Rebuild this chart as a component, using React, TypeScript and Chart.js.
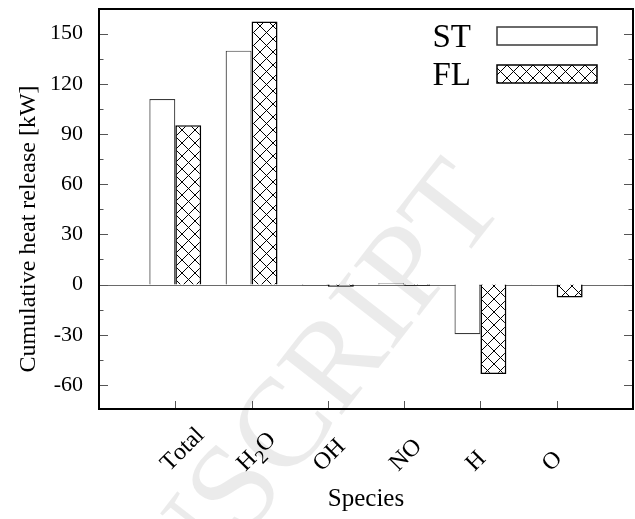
import React, { useEffect, useRef } from 'react';
import { Chart, registerables } from 'chart.js';

Chart.register(...registerables);

// ---- data ----
const categories = ['Total', 'H2O', 'OH', 'NO', 'H', 'O'];
const seriesLabels = ['ST', 'FL'];
const stValues = [110.9, 139.8, -0.6, 0.8, -29.7, -0.2];
const flValues = [95.2, 157.3, -1.3, -0.7, -53.5, -7.8];
const yTickValues = [-60, -30, 0, 30, 60, 90, 120, 150];
const yMinorStep = 15;
const yMin = -74.4;
const yMax = 164.7;
const xTitle = 'Species';
const yTitle = 'Cumulative heat release [kW]';
const watermark = 'ACCEPTED MANUSCRIPT';

const SERIF = '"Liberation Serif", "Times New Roman", Times, serif';
const W = 635;
const H = 519;

function makeHatch(): CanvasPattern | string {
  const p = 13;
  const c = document.createElement('canvas');
  c.width = p;
  c.height = p;
  const g = c.getContext('2d');
  if (!g) return '#fff';
  g.fillStyle = '#fff';
  g.fillRect(0, 0, p, p);
  g.strokeStyle = '#000';
  g.lineWidth = 1;
  g.beginPath();
  g.moveTo(0, 0);
  g.lineTo(p, p);
  g.moveTo(0, p);
  g.lineTo(p, 0);
  g.stroke();
  const pat = g.createPattern(c, 'repeat');
  return pat || '#fff';
}

function drawRichLabel(ctx: CanvasRenderingContext2D, text: string, size: number) {
  // digits rendered as subscripts (chemical formulas)
  let x = 0;
  for (const ch of text) {
    const isDigit = ch >= '0' && ch <= '9';
    const fs = isDigit ? size * 0.8 : size;
    ctx.font = `${fs}px ${SERIF}`;
    ctx.fillText(ch, x, isDigit ? size * 0.28 : 0);
    x += ctx.measureText(ch).width;
  }
}

const decorPlugin = {
  id: 'decor',
  beforeDatasetsDraw(chart: any) {
    const ctx: CanvasRenderingContext2D = chart.ctx;
    const { left, right } = chart.chartArea;
    const ys = chart.scales.y;
    // watermark
    ctx.save();
    ctx.fillStyle = 'rgba(0,0,0,0.08)';
    ctx.font = `126px ${SERIF}`;
    ctx.translate(244, 540);
    ctx.rotate((-52 * Math.PI) / 180);
    const cut = watermark.indexOf('SCRIPT');
    ctx.textBaseline = 'alphabetic';
    ctx.textAlign = 'right';
    ctx.fillText(watermark.slice(0, cut), 0, 0);
    ctx.textAlign = 'left';
    ctx.fillText(watermark.slice(cut), 0, 0);
    ctx.restore();
    // zero line
    const y0 = Math.round(ys.getPixelForValue(0)) + 0.5;
    ctx.save();
    ctx.strokeStyle = '#6a6a6a';
    ctx.lineWidth = 1;
    ctx.beginPath();
    ctx.moveTo(left, y0);
    ctx.lineTo(right, y0);
    ctx.stroke();
    ctx.restore();
  },
  afterDatasetsDraw(chart: any) {
    const ctx: CanvasRenderingContext2D = chart.ctx;
    const { left, right, top, bottom } = chart.chartArea;
    const ys = chart.scales.y;
    const xs = chart.scales.x;
    ctx.save();
    // y ticks (major + minor), both sides
    ctx.strokeStyle = '#555';
    ctx.lineWidth = 1;
    ctx.beginPath();
    for (const v of yTickValues) {
      const py = Math.round(ys.getPixelForValue(v)) + 0.5;
      ctx.moveTo(left, py);
      ctx.lineTo(left + 9, py);
      ctx.moveTo(right, py);
      ctx.lineTo(right - 9, py);
    }
    for (let v = Math.ceil(yMin / yMinorStep) * yMinorStep; v <= yMax; v += yMinorStep) {
      if (yTickValues.includes(v)) continue;
      const py = Math.round(ys.getPixelForValue(v)) + 0.5;
      ctx.moveTo(left, py);
      ctx.lineTo(left + 4.5, py);
      ctx.moveTo(right, py);
      ctx.lineTo(right - 4.5, py);
    }
    // x ticks
    categories.forEach((_, i) => {
      const px = Math.round(xs.getPixelForValue(i + 1)) + 0.5;
      ctx.moveTo(px, bottom);
      ctx.lineTo(px, bottom - 8);
    });
    ctx.stroke();
    // frame
    ctx.strokeStyle = '#000';
    ctx.lineWidth = 2;
    ctx.strokeRect(left, top, right - left, bottom - top);

    // x tick labels (rotated 45deg, starting below the tick)
    ctx.fillStyle = '#000';
    ctx.textAlign = 'left';
    ctx.textBaseline = 'alphabetic';
    categories.forEach((cat, i) => {
      const px = xs.getPixelForValue(i + 1);
      ctx.save();
      ctx.translate(px - 6, bottom + 63);
      ctx.rotate(-Math.PI / 4);
      drawRichLabel(ctx, cat, 24);
      ctx.restore();
    });

    // axis titles
    ctx.font = `25px ${SERIF}`;
    ctx.textAlign = 'center';
    ctx.fillText(xTitle, (left + right) / 2, 506);
    ctx.save();
    ctx.translate(35, 229);
    ctx.rotate(-Math.PI / 2);
    ctx.font = `24px ${SERIF}`;
    ctx.textBaseline = 'alphabetic';
    ctx.fillText(yTitle, 0, 0);
    ctx.restore();

    // legend (top right, text left of sample box)
    chart.data.datasets.forEach((ds: any, i: number) => {
      const boxX = right - 136;
      const boxY = top + 18 + i * 38;
      ctx.font = `33px ${SERIF}`;
      ctx.textAlign = 'right';
      ctx.fillStyle = '#000';
      ctx.fillText(ds.label, boxX - 26, boxY + 20);
      ctx.fillStyle = ds.backgroundColor;
      ctx.fillRect(boxX, boxY, 100, 18);
      ctx.strokeStyle = ds.borderColor;
      ctx.lineWidth = 1.5;
      ctx.strokeRect(boxX, boxY, 100, 18);
    });
    ctx.restore();
  },
};

export default function App() {
  const ref = useRef<HTMLCanvasElement | null>(null);
  useEffect(() => {
    document.body.style.margin = '0';
    const canvas = ref.current;
    if (!canvas) return;
    const hatch = makeHatch();
    const labels = ['', ...categories, ''];
    const chart = new Chart(canvas, {
      type: 'bar',
      data: {
        labels,
        datasets: [
          {
            label: seriesLabels[0],
            data: [null, ...stValues, null],
            backgroundColor: '#ffffff',
            borderColor: '#3a3a3a',
            borderWidth: 1.2,
          },
          {
            label: seriesLabels[1],
            data: [null, ...flValues, null],
            backgroundColor: hatch as any,
            borderColor: '#000000',
            borderWidth: 1.6,
          },
        ],
      },
      options: {
        animation: false,
        responsive: false,
        devicePixelRatio: 1,
        layout: { padding: { top: 9, right: 2, left: 0, bottom: 0 } },
        datasets: { bar: { categoryPercentage: 0.68, barPercentage: 1 } },
        plugins: { legend: { display: false }, tooltip: { enabled: false } },
        scales: {
          x: {
            type: 'category',
            offset: false,
            grid: { display: false, drawTicks: false },
            border: { display: false },
            ticks: { display: false },
            afterFit: (s: any) => {
              s.height = 110;
              s.paddingLeft = 0;
              s.paddingRight = 0;
            },
          },
          y: {
            min: yMin,
            max: yMax,
            afterBuildTicks: (s: any) => {
              s.ticks = yTickValues.map((v) => ({ value: v }));
            },
            grid: { display: false, drawTicks: false },
            border: { display: false },
            ticks: {
              color: '#000',
              padding: 16,
              font: { family: SERIF, size: 22 },
              callback: (v: any) => String(v),
            },
            afterFit: (s: any) => {
              s.width = 99;
              s.paddingTop = 0;
              s.paddingBottom = 0;
            },
          },
        },
      } as any,
      plugins: [decorPlugin],
    });
    return () => chart.destroy();
  }, []);
  return (
    <div style={{ width: W, height: H }}>
      <canvas ref={ref} width={W} height={H} style={{ display: 'block' }} />
    </div>
  );
}
